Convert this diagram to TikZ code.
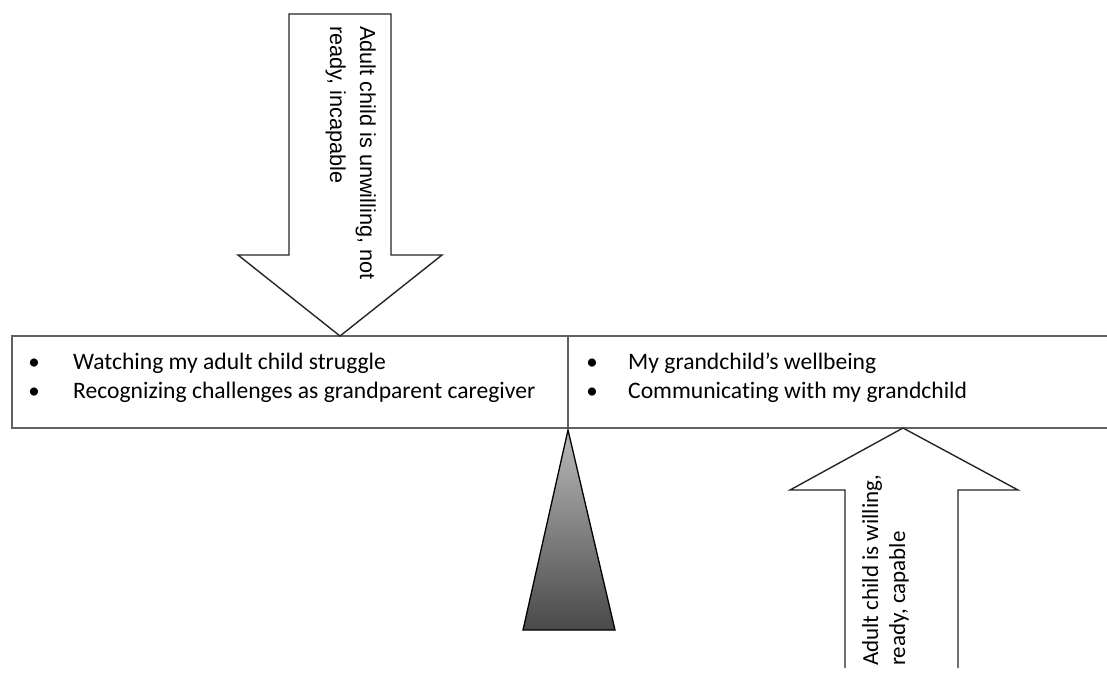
\documentclass[tikz,border=0pt]{standalone}
\usepackage{fontspec}
\setmainfont{Carlito}[Ligatures={NoCommon}]
\newfontfamily\arialf{Liberation Sans}
\pgfdeclareverticalshading{wedgeshade}{100bp}{
  color(0bp)=(black);
  color(6bp)=(black!88);
  color(72bp)=(black!30);
  color(100bp)=(black!52)}
\tikzset{
  barline/.style={draw=black!62, line width=1.4pt},
  arrowshape/.style={draw=black!85, line width=1.4pt, fill=white, line join=miter},
  bartext/.style={anchor=base west, inner sep=0pt, font=\fontsize{23.6}{28}\selectfont},
  bulletnode/.style={anchor=base, inner sep=0pt, font=\fontsize{23}{28}\selectfont},
  toptext/.style={anchor=base west, inner sep=0pt, rotate=-90, font=\arialf\fontsize{21.7}{26}\selectfont},
  bottext/.style={anchor=base west, inner sep=0pt, rotate=90, font=\fontsize{23}{27}\selectfont}
}
\begin{document}
\begin{tikzpicture}[x=1pt,y=-1pt]
\useasboundingbox (0,0) rectangle (1107,673);
% bar
\draw[barline] (1110,336) -- (12,336) -- (12,428) -- (1110,428);
\draw[barline] (568,336) -- (568,428);
% top arrow
\draw[arrowshape] (289,14) -- (391,14) -- (391,255) -- (442,255) -- (340,336)
  -- (238,255) -- (289,255) -- cycle;
% bottom arrow
\draw[arrowshape] (845,668) -- (845,490) -- (790,490) -- (903,428) -- (1018,490)
  -- (958,490) -- (958,668);
% wedge
\path[shading=wedgeshade, draw=black, line width=1.3pt, line join=miter]
  (568,430) -- (615,630) -- (523,630) -- cycle;
% texts in bar
\node[bulletnode] (b1) at (34,369) {•};
\node[bartext] (t1) at (73,369) {Watching my adult child struggle};
\node[bulletnode] (b2) at (34,398) {•};
\node[bartext] (t2) at (73,398) {Recognizing challenges as grandparent caregiver};
\node[bulletnode] (b3) at (592,369) {•};
\node[bartext] (t3) at (628,369) {My grandchild’s wellbeing};
\node[bulletnode] (b4) at (592,398) {•};
\node[bartext] (t4) at (628,398) {Communicating with my grandchild};
% arrow texts
\node[toptext] (u1) at (360,26) {Adult child is unwilling, not};
\node[toptext] (u2) at (330,26) {ready, incapable};
\node[bottext] (w1) at (878,666) {Adult child is willing,};
\node[bottext] (w2) at (905,666) {ready, capable};
\end{tikzpicture}
\end{document}
